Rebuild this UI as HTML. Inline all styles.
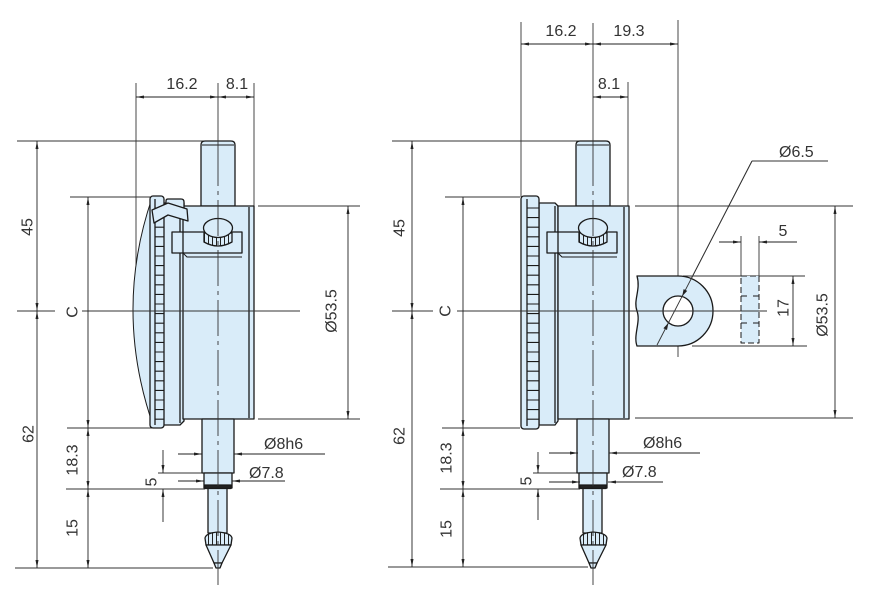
<!DOCTYPE html>
<html><head><meta charset="utf-8"><style>
html,body{margin:0;padding:0;background:#fff;}
svg{display:block;}
text{font-family:"Liberation Sans",sans-serif;font-size:16px;fill:#333;}
</style></head><body>
<svg width="870" height="597" viewBox="0 0 870 597" xmlns="http://www.w3.org/2000/svg">
<defs>
<marker id="ar" viewBox="0 0 8 3" refX="8" refY="1.5" markerWidth="8" markerHeight="3" markerUnits="userSpaceOnUse" orient="auto-start-reverse"><path d="M0,0L8,1.5L0,3z" fill="#222"/></marker>
<pattern id="kn" x="0" y="0" width="4" height="40" patternUnits="userSpaceOnUse"><rect width="4" height="40" fill="#d9ecf9"/><line x1="0.5" y1="0" x2="0.5" y2="40" stroke="#222" stroke-width="1"/></pattern>
</defs>

<!-- extension lines (behind) -->
<g stroke="#333" stroke-width="0.9" fill="none">
<line x1="136" y1="83" x2="136" y2="278"/>
<line x1="254" y1="83" x2="254" y2="206"/>
<line x1="17" y1="141" x2="210" y2="141"/>
<line x1="70" y1="197" x2="150" y2="197"/>
<line x1="258" y1="206" x2="360" y2="206"/>
<line x1="258" y1="419" x2="360" y2="419"/>
<line x1="67" y1="428" x2="152" y2="428"/>
<line x1="66" y1="489" x2="205" y2="489"/>
<line x1="158" y1="473" x2="203" y2="473"/>
<line x1="15" y1="568" x2="213" y2="568"/>

<line x1="521" y1="22" x2="521" y2="197"/>
<line x1="678" y1="20" x2="678" y2="357"/>
<line x1="628" y1="82" x2="628" y2="206"/>
<line x1="392" y1="141" x2="585" y2="141"/>
<line x1="445" y1="197" x2="520" y2="197"/>
<line x1="635" y1="206" x2="853" y2="206"/>
<line x1="635" y1="418" x2="853" y2="418"/>
<line x1="683" y1="276" x2="805" y2="276"/>
<line x1="692" y1="346" x2="807" y2="346"/>
<line x1="741" y1="236" x2="741" y2="276"/>
<line x1="759" y1="236" x2="759" y2="276"/>
<line x1="442" y1="428" x2="520" y2="428"/>
<line x1="440" y1="489" x2="580" y2="489"/>
<line x1="533" y1="473" x2="578" y2="473"/>
<line x1="388" y1="567" x2="588" y2="567"/>
<line x1="752" y1="161" x2="828" y2="161"/>
<line x1="752" y1="161" x2="657" y2="345"/>
</g>

<!-- LEFT instrument specific -->
<g stroke="#1a1a1a" stroke-width="1.3" fill="#d9ecf9" stroke-linejoin="round">
<path d="M152,198 Q113,312 154,428 Z" stroke-width="1"/>
<path d="M163,203 H184 V421 L180,425 H163 Z"/>
<line x1="180" y1="206" x2="180" y2="423"/>
<rect x="150" y="196" width="14" height="232" rx="3"/>
<line x1="155" y1="199" x2="155" y2="425"/>
<path fill="none" stroke-width="1.1" d="M155,208H164M155,217.6H164M155,227.2H164M155,236.8H164M155,246.4H164M155,256H164M155,265.6H164M155,275.2H164M155,284.8H164M155,294.4H164M155,304H164M155,313.6H164M155,323.2H164M155,332.8H164M155,342.4H164M155,352H164M155,361.6H164M155,371.2H164M155,380.8H164M155,390.4H164M155,400H164M155,409.6H164M155,419.2H164"/>
</g>

<!-- RIGHT instrument specific -->
<g stroke="#1a1a1a" stroke-width="1.3" fill="#d9ecf9" stroke-linejoin="round">
<path d="M539,203 H555 L558,206 V421 L555,425 H539 Z"/>
<line x1="555" y1="206" x2="555" y2="423"/>
<rect x="521" y="196" width="18" height="233" rx="3"/>
<line x1="527" y1="199" x2="527" y2="426"/>
<path fill="none" stroke-width="1.1" d="M527,208H539M527,217.6H539M527,227.2H539M527,236.8H539M527,246.4H539M527,256H539M527,265.6H539M527,275.2H539M527,284.8H539M527,294.4H539M527,304H539M527,313.6H539M527,323.2H539M527,332.8H539M527,342.4H539M527,352H539M527,361.6H539M527,371.2H539M527,380.8H539M527,390.4H539M527,400H539M527,409.6H539M527,419.2H539"/>
</g>

<!-- shared core -->
<g id="core" stroke="#1a1a1a" stroke-width="1.3" fill="#d9ecf9" stroke-linejoin="round">
<path d="M201,206 V145 Q201,141 205,141 H231 Q235,141 235,145 V206 Z"/>
<line x1="202" y1="145" x2="234" y2="145" stroke-width="1"/>
<rect x="183" y="206" width="71" height="213"/>
<line x1="249" y1="207" x2="249" y2="418"/>
<rect x="172" y="232" width="70" height="21"/>
<line x1="183" y1="232" x2="183" y2="253"/>
<path d="M183,253 L187,257 H242" fill="none" stroke-width="1"/>
<path d="M204,233 V242 Q218,250 232,242 V233 Z" fill="url(#kn)"/>
<ellipse cx="218" cy="228" rx="14.5" ry="9.5"/>
<rect x="202" y="419" width="32" height="54"/>
<rect x="204" y="473" width="28" height="15"/>
<rect x="205" y="485" width="26" height="3.5" fill="#222"/>
<rect x="208" y="488.5" width="19" height="44.5"/>
<path d="M206,545 L205,538 Q206,533 218,532 Q231,533 232,538 L231,545 Z" fill="url(#kn)"/>
<path d="M206,545 L214,563 H222 L231,545 Z"/>
<path d="M214,563 L216,568 H220 L222,563 Z"/>
</g>
<use href="#core" transform="translate(375,0)"/>

<!-- left tab clip -->
<g stroke="#1a1a1a" stroke-width="1.3" fill="#d9ecf9" stroke-linejoin="round">
<path d="M166,212 V201 Q166,199 168,199 H181 Q184,199 184,202 V212 Z"/>
<path d="M152,210 L168,203 L187,209 L188,221 L168,215 L154,223 Z"/>
</g>

<!-- right lug -->
<g stroke="#1a1a1a" stroke-width="1.3" fill="#d9ecf9" stroke-linejoin="round">
<path d="M637,276 H678 A35,35 0 0 1 678,346 H637 C633,335 641,322 637,311 C633,300 641,290 637,276 Z"/>
<circle cx="678" cy="311" r="15" fill="#fff"/>
<rect x="741" y="276" width="18" height="67" stroke-width="1" stroke-dasharray="6,3"/>
<path d="M741,296 H747 M753,296 H759 M741,323 H747 M753,323 H759" stroke-width="1" fill="none"/>
</g>

<!-- center lines -->
<g stroke="#333" stroke-width="0.9" fill="none">
<line x1="218" y1="83" x2="218" y2="150"/>
<line x1="218" y1="150" x2="218" y2="585" stroke-dasharray="36,5,4,5"/>
<line x1="17" y1="311" x2="55" y2="311"/>
<line x1="82" y1="311" x2="300" y2="311"/>
<line x1="593" y1="23" x2="593" y2="150"/>
<line x1="593" y1="150" x2="593" y2="585" stroke-dasharray="36,5,4,5"/>
<line x1="392" y1="311" x2="433" y2="311"/>
<line x1="457" y1="311" x2="767" y2="311"/>
<line x1="752" y1="161" x2="657" y2="345"/>
</g>

<!-- dimension lines -->
<g stroke="#222" stroke-width="0.9" fill="none">
<line x1="136" y1="97" x2="218" y2="97" marker-start="url(#ar)" marker-end="url(#ar)"/>
<line x1="218" y1="97" x2="254" y2="97" marker-start="url(#ar)" marker-end="url(#ar)"/>
<line x1="37" y1="141" x2="37" y2="311" marker-start="url(#ar)" marker-end="url(#ar)"/>
<line x1="37" y1="311" x2="37" y2="568" marker-start="url(#ar)" marker-end="url(#ar)"/>
<line x1="88" y1="197" x2="88" y2="428" marker-start="url(#ar)" marker-end="url(#ar)"/>
<line x1="88" y1="428" x2="88" y2="489" marker-start="url(#ar)" marker-end="url(#ar)"/>
<line x1="88" y1="489" x2="88" y2="568" marker-start="url(#ar)" marker-end="url(#ar)"/>
<line x1="348" y1="206" x2="348" y2="419" marker-start="url(#ar)" marker-end="url(#ar)"/>
<line x1="163" y1="450" x2="163" y2="473" marker-end="url(#ar)"/>
<line x1="163" y1="522" x2="163" y2="489" marker-end="url(#ar)"/>
<line x1="178" y1="454" x2="202" y2="454" marker-end="url(#ar)"/>
<line x1="325" y1="454" x2="234" y2="454" marker-end="url(#ar)"/>
<line x1="178" y1="481" x2="204" y2="481" marker-end="url(#ar)"/>
<line x1="285" y1="481" x2="232" y2="481" marker-end="url(#ar)"/>

<line x1="521" y1="44" x2="593" y2="44" marker-start="url(#ar)" marker-end="url(#ar)"/>
<line x1="593" y1="44" x2="678" y2="44" marker-start="url(#ar)" marker-end="url(#ar)"/>
<line x1="593" y1="97" x2="628" y2="97" marker-start="url(#ar)" marker-end="url(#ar)"/>
<line x1="412" y1="141" x2="412" y2="311" marker-start="url(#ar)" marker-end="url(#ar)"/>
<line x1="412" y1="311" x2="412" y2="567" marker-start="url(#ar)" marker-end="url(#ar)"/>
<line x1="463" y1="197" x2="463" y2="428" marker-start="url(#ar)" marker-end="url(#ar)"/>
<line x1="463" y1="428" x2="463" y2="489" marker-start="url(#ar)" marker-end="url(#ar)"/>
<line x1="463" y1="489" x2="463" y2="567" marker-start="url(#ar)" marker-end="url(#ar)"/>
<line x1="538" y1="452" x2="538" y2="473" marker-end="url(#ar)"/>
<line x1="538" y1="520" x2="538" y2="489" marker-end="url(#ar)"/>
<line x1="549" y1="453" x2="578" y2="453" marker-end="url(#ar)"/>
<line x1="700" y1="453" x2="609" y2="453" marker-end="url(#ar)"/>
<line x1="549" y1="482" x2="580" y2="482" marker-end="url(#ar)"/>
<line x1="663" y1="482" x2="608" y2="482" marker-end="url(#ar)"/>
<line x1="835" y1="206" x2="835" y2="418" marker-start="url(#ar)" marker-end="url(#ar)"/>
<line x1="793" y1="276" x2="793" y2="346" marker-start="url(#ar)" marker-end="url(#ar)"/>
<line x1="719" y1="242" x2="741" y2="242" marker-end="url(#ar)"/>
<line x1="797" y1="242" x2="759" y2="242" marker-end="url(#ar)"/>
</g>
<g fill="#222" stroke="none">
<path d="M682.2,296.2 L687.2,290.9 L683.6,289.1 Z"/>
<path d="M668.4,322.9 L667.0,330.0 L663.4,328.2 Z"/>
</g>

<!-- text -->
<text x="182" y="89" text-anchor="middle">16.2</text>
<text x="237" y="89" text-anchor="middle">8.1</text>
<text x="264" y="449">Ø8h6</text>
<text x="249" y="478">Ø7.8</text>
<g text-anchor="middle" dominant-baseline="central">
<text transform="translate(28,227) rotate(-90)">45</text>
<text transform="translate(29,434) rotate(-90)">62</text>
<text transform="translate(73,312) rotate(-90)">C</text>
<text transform="translate(73,460) rotate(-90)">18.3</text>
<text transform="translate(152,482) rotate(-90)">5</text>
<text transform="translate(73,528) rotate(-90)">15</text>
<text transform="translate(332,311) rotate(-90)">Ø53.5</text>

<text transform="translate(400,228) rotate(-90)">45</text>
<text transform="translate(400,436) rotate(-90)">62</text>
<text transform="translate(446,311) rotate(-90)">C</text>
<text transform="translate(447,458) rotate(-90)">18.3</text>
<text transform="translate(527,481) rotate(-90)">5</text>
<text transform="translate(447,529) rotate(-90)">15</text>
<text transform="translate(823,315) rotate(-90)">Ø53.5</text>
<text transform="translate(784,308) rotate(-90)">17</text>
</g>
<text x="561" y="36" text-anchor="middle">16.2</text>
<text x="629" y="36" text-anchor="middle">19.3</text>
<text x="609" y="89" text-anchor="middle">8.1</text>
<text x="783" y="236" text-anchor="middle">5</text>
<text x="779" y="157">Ø6.5</text>
<text x="643" y="448">Ø8h6</text>
<text x="622" y="477">Ø7.8</text>
</svg>
</body></html>
